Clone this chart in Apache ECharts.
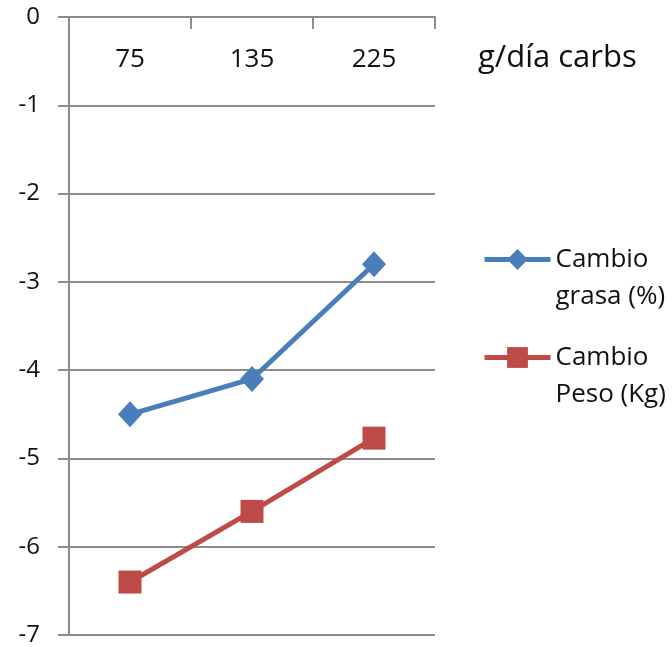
<!DOCTYPE html>
<html>
<head>
<meta charset="utf-8">
<script src="https://cdn.jsdelivr.net/npm/echarts@6/dist/echarts.min.js"></script>
<style>
  html, body { margin: 0; padding: 0; background: #fff; }
  #chart { width: 672px; height: 647px; }
</style>
</head>
<body>
<div id="chart"></div>
<script>
// Carbohydrate intake groups (g/day)
const categories = ['75', '135', '225'];
// Change in body fat (%)
const fatChange = [-4.5, -4.1, -2.8];
// Change in body weight (kg)
const weightChange = [-6.4, -5.6, -4.77];
const seriesNames = ['Cambio grasa (%)', 'Cambio Peso (Kg)'];
const yTicks = { min: -7, max: 0, interval: 1 };

const FONT = 'Open Sans';
const TEXT = '#111111';
const GRID = '#8c8c8c';

const chart = echarts.init(document.getElementById('chart'), null, { renderer: 'canvas' });

chart.setOption({
  animation: false,
  backgroundColor: '#ffffff',
  textStyle: { fontFamily: FONT, color: TEXT },
  title: {
    text: 'g/día carbs',
    left: 473,
    top: 38,
    textStyle: { fontFamily: FONT, fontSize: 31, fontWeight: 'normal', color: TEXT }
  },
  legend: {
    orient: 'vertical',
    left: 482,
    top: 204,
    padding: 0,
    itemWidth: 66,
    itemHeight: 26,
    itemGap: -13,
    data: seriesNames,
    lineStyle: { width: 5 },
    formatter: function (name) {
      // first blank line keeps the icon level with the first text row
      const parts = name.split(' ');
      return '\n' + parts[0] + '\n' + parts.slice(1).join(' ');
    },
    textStyle: { fontFamily: FONT, fontSize: 26, color: TEXT, lineHeight: 37 }
  },
  grid: { left: 69, right: 237, top: 17, bottom: 11, containLabel: false },
  xAxis: {
    type: 'category',
    position: 'top',
    data: categories,
    boundaryGap: true,
    axisLine: { show: true, lineStyle: { color: GRID, width: 2 } },
    axisTick: { show: true, inside: true, length: 12, lineStyle: { color: GRID, width: 2 } },
    axisLabel: { inside: true, margin: 30, fontFamily: FONT, fontSize: 26, color: TEXT },
    splitLine: { show: false }
  },
  yAxis: {
    type: 'value',
    min: yTicks.min,
    max: yTicks.max,
    interval: yTicks.interval,
    axisLine: { show: true, lineStyle: { color: GRID, width: 2 } },
    axisTick: { show: true, inside: false, length: 11, lineStyle: { color: GRID, width: 2 } },
    axisLabel: { margin: 29, fontFamily: FONT, fontSize: 24, color: TEXT },
    splitLine: { show: true, lineStyle: { color: GRID, width: 2 } }
  },
  series: [
    {
      name: seriesNames[0],
      type: 'line',
      data: fatChange,
      symbol: 'diamond',
      symbolSize: [24, 26],
      itemStyle: { color: '#4a7ebb' },
      lineStyle: { color: '#4a7ebb', width: 5 }
    },
    {
      name: seriesNames[1],
      type: 'line',
      data: weightChange,
      symbol: 'rect',
      symbolSize: 23,
      itemStyle: { color: '#be4b48' },
      lineStyle: { color: '#be4b48', width: 5 }
    }
  ]
});
</script>
</body>
</html>
